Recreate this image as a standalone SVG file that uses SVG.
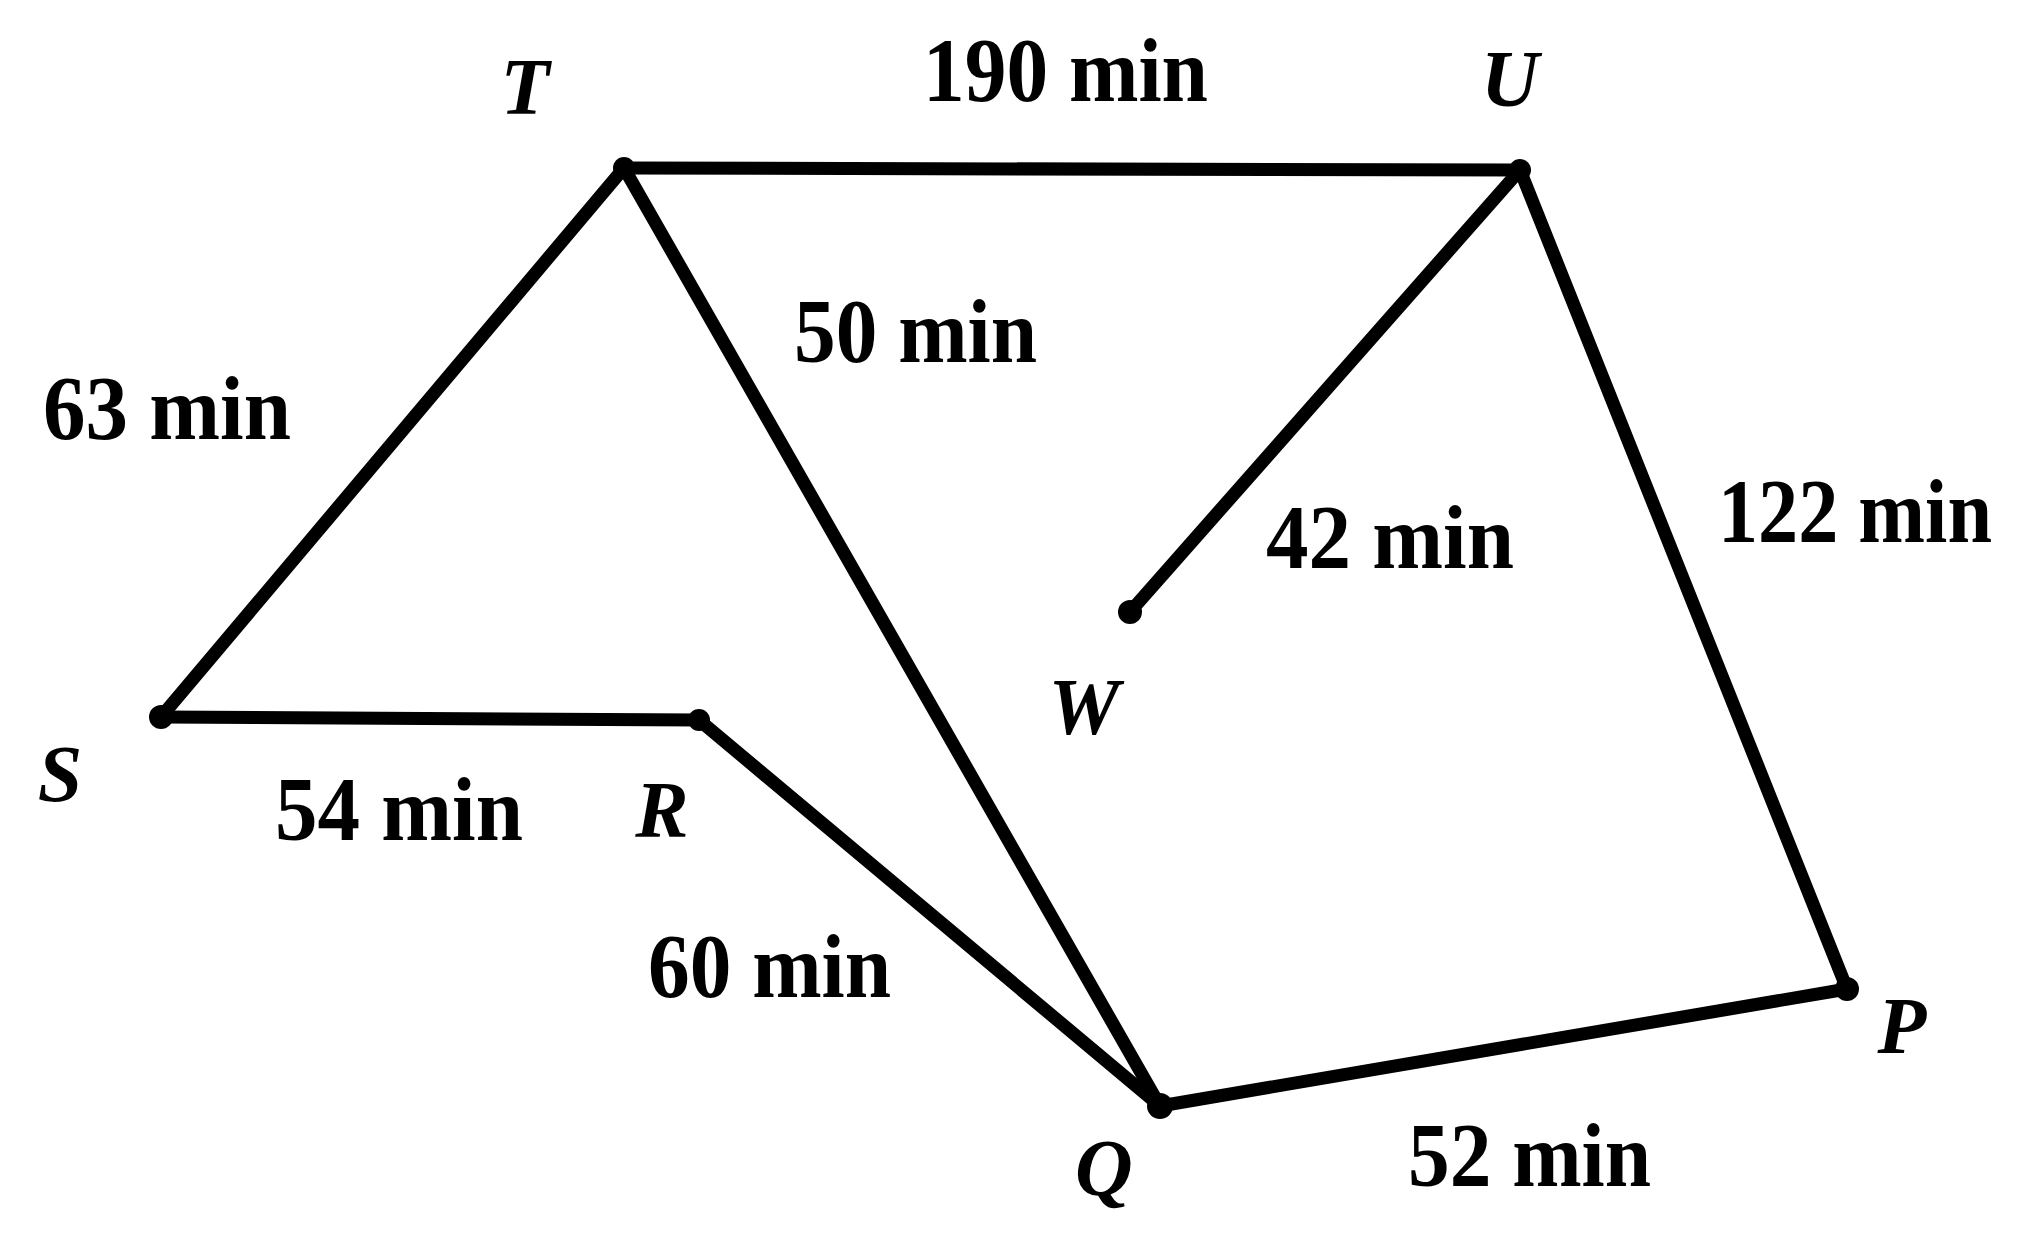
<svg xmlns="http://www.w3.org/2000/svg" width="2025" height="1238" viewBox="0 0 2025 1238">
<style>
.edge{stroke:#000;stroke-width:13;stroke-linecap:round;stroke-linejoin:round;fill:none}
.dot{fill:#000}
.lbl{font-family:"Liberation Serif","Times New Roman",serif;font-weight:bold;font-size:90px;fill:#000}
.nm{font-family:"Liberation Serif","Times New Roman",serif;font-weight:bold;font-style:italic;font-size:80px;fill:#000;text-anchor:middle}
</style>
<rect width="2025" height="1238" fill="#fff"/>
<g id="connectors">
<line class="edge" x1="624" y1="168" x2="1520" y2="170"/>
<line class="edge" x1="624" y1="168" x2="161" y2="717"/>
<line class="edge" x1="624" y1="168" x2="1160" y2="1106"/>
<line class="edge" x1="161" y1="717" x2="699" y2="720"/>
<line class="edge" x1="699" y1="720" x2="1160" y2="1106"/>
<line class="edge" x1="1520" y1="170" x2="1130" y2="612"/>
<line class="edge" x1="1520" y1="170" x2="1847" y2="989"/>
<line class="edge" x1="1160" y1="1106" x2="1847" y2="989"/>
<text class="lbl" x="923" y="101" textLength="285" lengthAdjust="spacingAndGlyphs">190 min</text>
<text class="lbl" x="794" y="362" textLength="243" lengthAdjust="spacingAndGlyphs">50 min</text>
<text class="lbl" x="43" y="439" textLength="248" lengthAdjust="spacingAndGlyphs">63 min</text>
<text class="lbl" x="1266" y="568" textLength="248" lengthAdjust="spacingAndGlyphs">42 min</text>
<text class="lbl" x="1718" y="542" textLength="274" lengthAdjust="spacingAndGlyphs">122 min</text>
<text class="lbl" x="275" y="840" textLength="248" lengthAdjust="spacingAndGlyphs">54 min</text>
<text class="lbl" x="648" y="997" textLength="243" lengthAdjust="spacingAndGlyphs">60 min</text>
<text class="lbl" x="1408" y="1186" textLength="243" lengthAdjust="spacingAndGlyphs">52 min</text>
</g>
<g id="node-T"><circle class="dot" cx="624" cy="168" r="11"/><text class="nm" x="525" y="114">T</text></g>
<g id="node-U"><circle class="dot" cx="1520" cy="170" r="11"/><text class="nm" x="1510" y="106">U</text></g>
<g id="node-S"><circle class="dot" cx="161" cy="717" r="12"/><text class="nm" x="60" y="801">S</text></g>
<g id="node-R"><circle class="dot" cx="699" cy="720" r="11"/><text class="nm" x="662" y="837">R</text></g>
<g id="node-W"><circle class="dot" cx="1130" cy="612" r="12"/><text class="nm" x="1084" y="734">W</text></g>
<g id="node-Q"><circle class="dot" cx="1160" cy="1106" r="13"/><text class="nm" x="1104" y="1195">Q</text></g>
<g id="node-P"><circle class="dot" cx="1847" cy="989" r="12"/><text class="nm" x="1902" y="1053">P</text></g>
</svg>
